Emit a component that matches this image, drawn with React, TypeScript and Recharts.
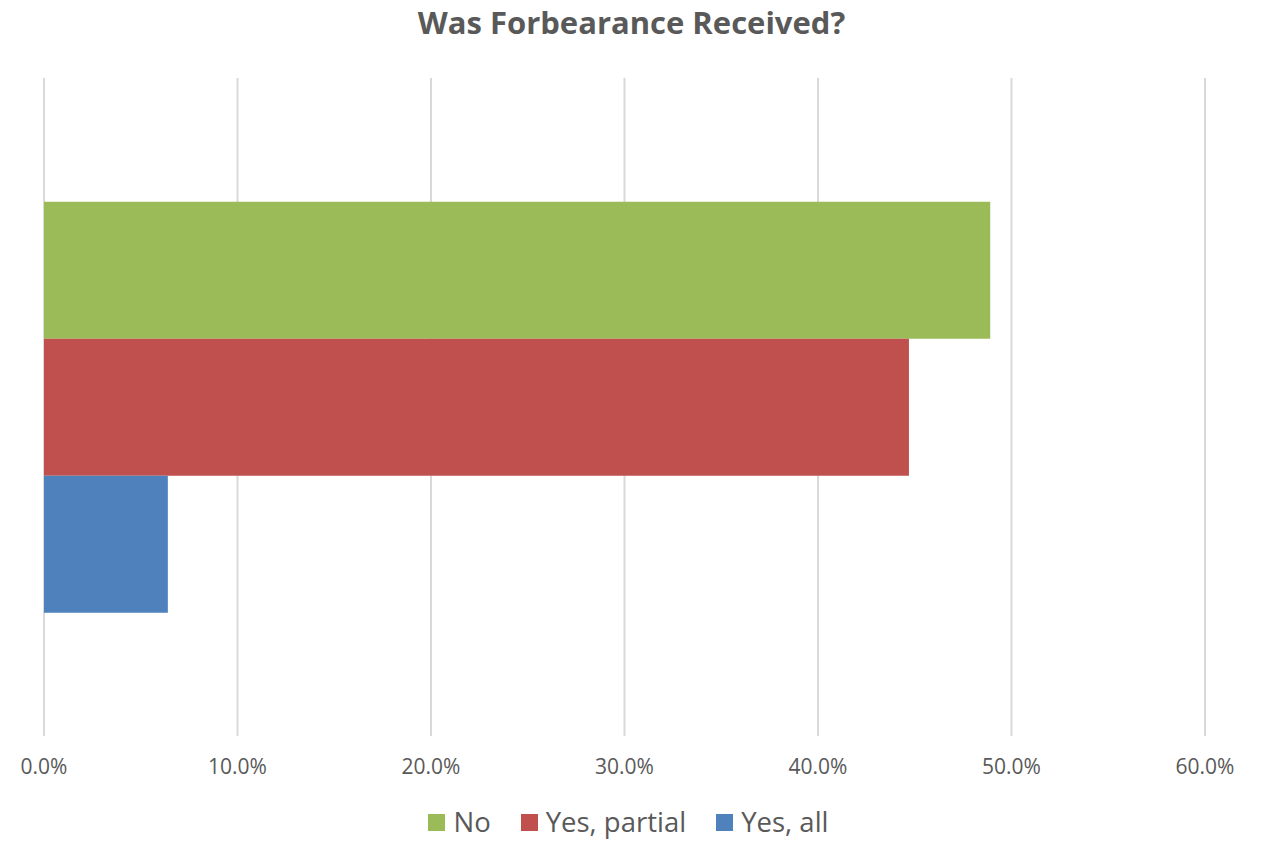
import React from "react";
import { BarChart, Bar, XAxis, YAxis, CartesianGrid, Legend } from "recharts";

const categories = ["Was Forbearance Received?"];
const seriesNames = ["No", "Yes, partial", "Yes, all"];
const noValues = [0.489];
const partialValues = [0.447];
const allValues = [0.064];
const xTicks = [0, 0.1, 0.2, 0.3, 0.4, 0.5, 0.6];
const colors = ["#9BBB59", "#C0504D", "#4F81BD"];

const data = categories.map((c, i) => ({
  name: c,
  no: noValues[i],
  partial: partialValues[i],
  all: allValues[i],
}));
const keys = ["no", "partial", "all"];

const FONT = "'Open Sans', Lato, sans-serif";
const TEXT = "#595959";

const LegendContent = () => (
  <div
    style={{
      height: 60,
      display: "flex",
      justifyContent: "center",
      alignItems: "flex-start",
      paddingTop: 22,
      paddingLeft: 8,
      boxSizing: "border-box",
      fontFamily: FONT,
      fontSize: 27.5,
      color: TEXT,
    }}
  >
    {seriesNames.map((n, i) => (
      <div key={n} style={{ display: "flex", alignItems: "center", marginLeft: i === 0 ? 0 : 30 }}>
        <div style={{ width: 17, height: 17, background: colors[i], marginRight: 8 }} />
        <span style={{ lineHeight: "36px" }}>{n}</span>
      </div>
    ))}
  </div>
);

export default function App() {
  return (
    <div style={{ position: "absolute", left: 0, top: 0, width: 1263, height: 842, background: "#fff" }}>
      <div
        style={{
          position: "absolute",
          top: 2,
          left: 0,
          width: 1263,
          textAlign: "center",
          fontFamily: FONT,
          fontWeight: 700,
          fontSize: 31,
          color: TEXT,
          lineHeight: "40px",
        }}
      >
        Was Forbearance Received?
      </div>
      <BarChart
        width={1263}
        height={842}
        data={data}
        layout="vertical"
        margin={{ top: 78, right: 58, left: 44, bottom: 0 }}
        barCategoryGap="18.8%"
        barGap={0}
      >
        <CartesianGrid horizontal={false} stroke="#D9D9D9" strokeWidth={2} />
        <XAxis
          type="number"
          domain={[0, 0.6]}
          ticks={xTicks}
          tickFormatter={(v: number) => (v * 100).toFixed(1) + "%"}
          axisLine={false}
          tickLine={false}
          tickSize={0}
          tickMargin={23}
          height={46}
          tick={{ fill: TEXT, fontSize: 21, fontFamily: FONT }}
          interval={0}
        />
        <YAxis type="category" dataKey="name" hide width={0} />
        <Legend verticalAlign="bottom" height={60} content={<LegendContent />} />
        {keys.map((k, i) => (
          <Bar key={k} dataKey={k} name={seriesNames[i]} fill={colors[i]} isAnimationActive={false} />
        ))}
      </BarChart>
    </div>
  );
}
